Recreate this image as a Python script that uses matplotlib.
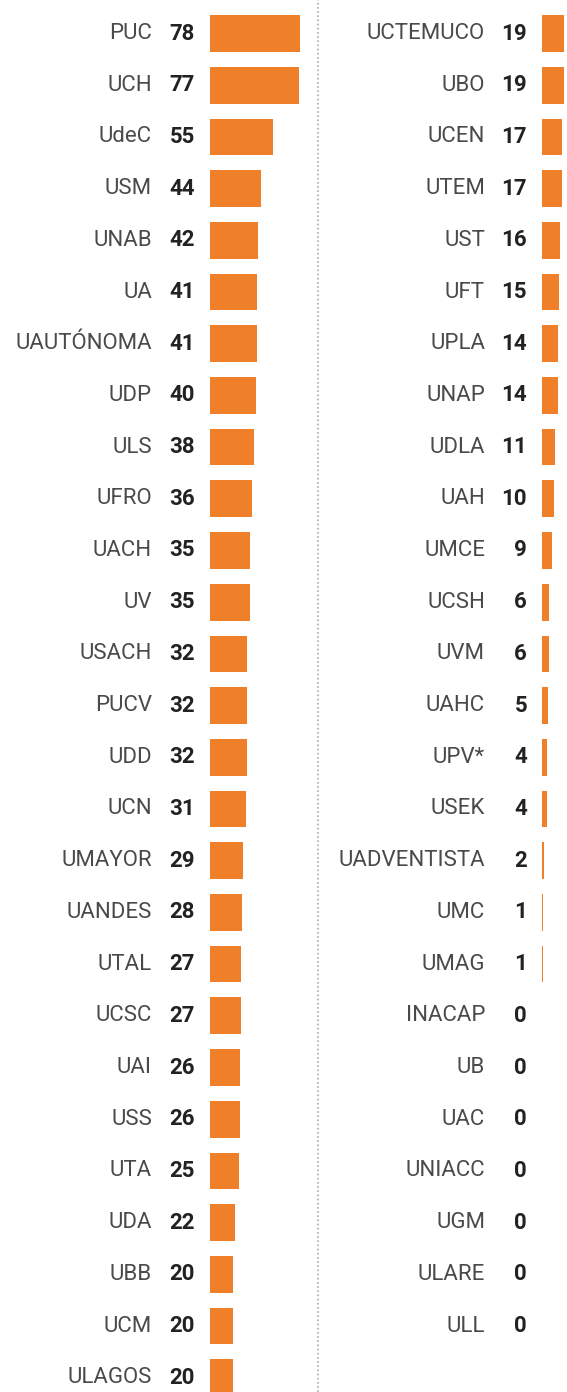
import matplotlib
matplotlib.use("Agg")
import matplotlib.pyplot as plt
from matplotlib.lines import Line2D

left_names = ["PUC", "UCH", "UdeC", "USM", "UNAB", "UA", "UAUTÓNOMA", "UDP", "ULS",
              "UFRO", "UACH", "UV", "USACH", "PUCV", "UDD", "UCN", "UMAYOR", "UANDES",
              "UTAL", "UCSC", "UAI", "USS", "UTA", "UDA", "UBB", "UCM", "ULAGOS"]
left_values = [78, 77, 55, 44, 42, 41, 41, 40, 38, 36, 35, 35, 32, 32, 32, 31, 29, 28,
               27, 27, 26, 26, 25, 22, 20, 20, 20]

right_names = ["UCTEMUCO", "UBO", "UCEN", "UTEM", "UST", "UFT", "UPLA", "UNAP", "UDLA",
               "UAH", "UMCE", "UCSH", "UVM", "UAHC", "UPV*", "USEK", "UADVENTISTA", "UMC",
               "UMAG", "INACAP", "UB", "UAC", "UNIACC", "UGM", "ULARE", "ULL"]
right_values = [19, 19, 17, 17, 16, 15, 14, 14, 11, 10, 9, 6, 6, 5, 4, 4, 2, 1, 1,
                0, 0, 0, 0, 0, 0, 0]

W, H, DPI = 567, 1392, 100
fig = plt.figure(figsize=(W / DPI, H / DPI), dpi=DPI)
fig.patch.set_facecolor("white")

BAR = "#F07F2A"
LABEL_C = "#4a4a4a"
VAL_C = "#222222"
FONT = ["Roboto", "DejaVu Sans"]
FS = 16

px_per_unit = 90 / 78.0
row0 = 33.5
step = 51.7
ytop = -row0 / step
ybot = (H - row0) / step


def make_col(x0_px, x1_px, names, values, lab_off, val_off):
    ax = fig.add_axes([x0_px / W, 0, (x1_px - x0_px) / W, 1])
    ax.set_xlim(0, (x1_px - x0_px) / px_per_unit)
    ax.set_ylim(ybot, ytop)
    ax.axis("off")
    ys = list(range(len(names)))
    ax.barh(ys, values, height=0.71, color=BAR, linewidth=0)
    for y, n, v in zip(ys, names, values):
        ax.annotate(n, xy=(0, y), xytext=(lab_off, 0), textcoords="offset points",
                    ha="right", va="center", fontsize=FS, color=LABEL_C, family=FONT,
                    annotation_clip=False)
        ax.annotate(str(v), xy=(0, y), xytext=(val_off, 0), textcoords="offset points",
                    ha="right", va="center", fontsize=FS, color=VAL_C, family=FONT,
                    fontweight="bold", annotation_clip=False)
    return ax


make_col(210, 312, left_names, left_values, -58 * 0.72, -15 * 0.72)
make_col(542, 567, right_names, right_values, -57 * 0.72, -15 * 0.72)

fig.add_artist(Line2D([318 / W, 318 / W], [0, 1], transform=fig.transFigure,
                      color="#aaaaaa", linewidth=1.2, linestyle=(0, (1, 1.5))))

fig.savefig("out.png", dpi=DPI, facecolor="white")
